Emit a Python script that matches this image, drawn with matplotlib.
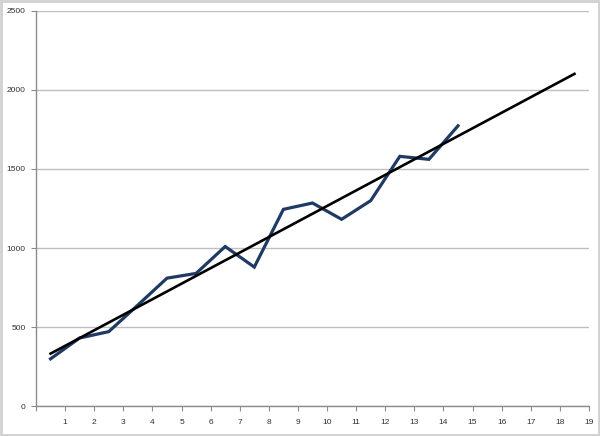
import numpy as np
import matplotlib
matplotlib.use("Agg")
import matplotlib.pyplot as plt
from matplotlib.patches import Rectangle

# Data
x_pos = [0.5, 1.5, 2.5, 3.5, 4.5, 5.5, 6.5, 7.5, 8.5, 9.5, 10.5, 11.5, 12.5, 13.5, 14.5]
values = [300, 432, 472, 640, 810, 840, 1010, 880, 1245, 1285, 1182, 1300, 1580, 1561, 1773]
x_ticks = list(range(0, 20))
x_tick_labels = [""] + [str(i) for i in range(1, 20)]
y_ticks = [0, 500, 1000, 1500, 2000, 2500]
forecast_end = 18.5

fig = plt.figure(figsize=(6.0, 4.36), dpi=100)
ax = fig.add_axes([36/600, 29.7/436, (589-36)/600, (406.3-10.8)/436])

ax.plot(x_pos, values, color="#1f3b63", lw=2.3, solid_joinstyle="miter", zorder=3)

coef = np.polyfit(x_pos, values, 1)
tx = np.array([x_pos[0], forecast_end])
ax.plot(tx, np.polyval(coef, tx), color="black", lw=1.9, zorder=4)

ax.set_xlim(0, 19)
ax.set_ylim(0, 2500)
ax.set_xticks(x_ticks)
ax.set_xticklabels(x_tick_labels)
ax.set_yticks(y_ticks)
ax.set_yticklabels([str(v) for v in y_ticks])

ax.grid(axis="y", color="#bfbfbf", lw=1.0, zorder=0)
ax.set_axisbelow(True)
for s in ["top", "right"]:
    ax.spines[s].set_visible(False)
for s in ["left", "bottom"]:
    ax.spines[s].set_color("#8c8c8c")
    ax.spines[s].set_linewidth(1.0)

ax.tick_params(axis="both", direction="out", length=3.5, width=0.8, color="#8c8c8c",
               labelsize=6, labelcolor="#303030")
ax.tick_params(axis="x", pad=6)
ax.tick_params(axis="y", pad=4)
for lab in ax.get_xticklabels() + ax.get_yticklabels():
    lab.set_family("Liberation Sans")

fig.patches.append(Rectangle((0.002, 0.003), 0.996, 0.994, transform=fig.transFigure,
                             fill=False, edgecolor="#d0d0d0", lw=2.0))

fig.savefig("out.png", dpi=100)
